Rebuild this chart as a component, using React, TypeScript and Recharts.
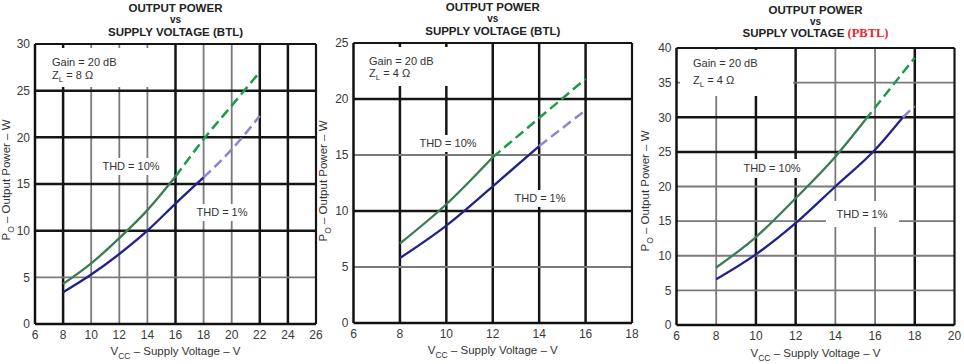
import React from "react";
import { Line, LineChart, ReferenceLine, XAxis, YAxis } from "recharts";

// panel 1: BTL, 8 ohm
const p1XTicks = [6, 8, 10, 12, 14, 16, 18, 20, 22, 24, 26];
const p1YTicks = [0, 5, 10, 15, 20, 25, 30];
const p1Vcc = [8, 10, 12, 14, 16, 18, 20, 22];
const p1Thd10 = [4.3, 6.5, 9.2, 12.2, 15.8, 19.8, 23.4, 27.0];
const p1Thd1 = [3.4, 5.3, 7.5, 10.0, 12.9, 15.7, 18.7, 22.3];

// panel 2: BTL, 4 ohm
const p2XTicks = [6, 8, 10, 12, 14, 16, 18];
const p2YTicks = [0, 5, 10, 15, 20, 25];
const p2Vcc = [8, 10, 12, 14, 16];
const p2Thd10 = [7.1, 10.6, 14.8, 18.3, 21.8];
const p2Thd1 = [5.8, 8.7, 12.2, 15.8, 19.0];

// panel 3: PBTL, 4 ohm
const p3XTicks = [6, 8, 10, 12, 14, 16, 18, 20];
const p3YTicks = [0, 5, 10, 15, 20, 25, 30, 35, 40];
const p3Vcc10 = [8, 10, 12, 14, 15.5, 18];
const p3Thd10 = [8.3, 12.7, 18.3, 24.3, 29.6, 38.6];
const p3Vcc1 = [8, 10, 12, 14, 16, 17.4, 18];
const p3Thd1 = [6.6, 10.2, 14.7, 20.0, 25.3, 30.0, 31.6];

const GREEN = "#3a7c56";
const GREEN_DASH = "#1f9a4c";
const NAVY = "#23228a";
const LAVENDER = "#8c86cc";
const FONT = "'Liberation Sans', Arial, sans-serif";

type Series = { vcc: number[]; po: number[]; dashFrom: number; solid: string; dashed: string };
type Box = { text: React.ReactNode; cx: number; cy: number; w: number; h: number };

type PanelProps = {
  left: number;
  width: number;
  plot: { x0: number; x1: number; y0: number; y1: number };
  xTicks: number[];
  yTicks: number[];
  heavyX: number[];
  heavyY: number[];
  series: Series[];
  titleY: number[];
  variant: React.ReactNode;
  note: { box: { x: number; y: number; w: number; h: number }; textX: number; lineY: number[]; load: string };
  labels: Box[];
  yTitle: { x: number; y: number };
  xTitleY: number;
};

function split(s: Series) {
  const pts = s.vcc.map((v, i) => ({ vcc: v, po: s.po[i] }));
  return {
    solid: pts.filter((p) => p.vcc <= s.dashFrom),
    dashed: pts.filter((p) => p.vcc >= s.dashFrom),
  };
}

function Panel(p: PanelProps) {
  const yAxisW = 30;
  const xAxisH = 36;
  const height = 364;
  const margin = {
    left: p.plot.x0 - p.left - yAxisW,
    right: p.left + p.width - p.plot.x1,
    top: p.plot.y0,
    bottom: height - p.plot.y1 - xAxisH,
  };
  const xMin = p.xTicks[0];
  const xMax = p.xTicks[p.xTicks.length - 1];
  const yMin = p.yTicks[0];
  const yMax = p.yTicks[p.yTicks.length - 1];
  const cx = (p.plot.x0 + p.plot.x1) / 2;
  const abs: React.CSSProperties = { position: "absolute", fontFamily: FONT, whiteSpace: "nowrap" };

  return (
    <>
      <div style={{ position: "absolute", left: p.left, top: 0 }}>
        <LineChart width={p.width} height={height} margin={margin}>
          <XAxis
            type="number"
            dataKey="vcc"
            domain={[xMin, xMax]}
            ticks={p.xTicks}
            interval={0}
            height={xAxisH}
            tickSize={0}
            tickMargin={6}
            tick={{ fontSize: 12, fill: "#3a3a3a", fontFamily: FONT }}
            axisLine={{ stroke: "#111", strokeWidth: 2.5 }}
            allowDataOverflow
          />
          <YAxis
            type="number"
            domain={[yMin, yMax]}
            ticks={p.yTicks}
            interval={0}
            width={yAxisW}
            tickSize={0}
            tickMargin={5}
            tick={{ fontSize: 12, fill: "#3a3a3a", fontFamily: FONT }}
            axisLine={{ stroke: "#111", strokeWidth: 2.5 }}
            allowDataOverflow
          />
          {p.xTicks.slice(1, -1).map((v) => (
            <ReferenceLine
              key={"x" + v}
              x={v}
              stroke={p.heavyX.includes(v) ? "#151515" : "#7a7a7a"}
              strokeWidth={p.heavyX.includes(v) ? 2.5 : 1.8}
              zIndex={-1}
            />
          ))}
          {p.yTicks.slice(1, -1).map((v) => (
            <ReferenceLine
              key={"y" + v}
              y={v}
              stroke={p.heavyY.includes(v) ? "#151515" : "#7a7a7a"}
              strokeWidth={p.heavyY.includes(v) ? 2.5 : 1.8}
              zIndex={-1}
            />
          ))}
          <ReferenceLine x={xMax} stroke="#151515" strokeWidth={2.2} zIndex={-1} />
          <ReferenceLine y={yMax} stroke="#151515" strokeWidth={2.2} zIndex={-1} />
          {p.series.map((s, i) => {
            const { solid, dashed } = split(s);
            return [
              <Line
                key={"s" + i}
                data={solid}
                dataKey="po"
                type="monotone"
                stroke={s.solid}
                strokeWidth={2.3}
                dot={false}
                activeDot={false}
                isAnimationActive={false}
              />,
              <Line
                key={"d" + i}
                data={dashed}
                dataKey="po"
                type="monotone"
                stroke={s.dashed}
                strokeWidth={2.5}
                strokeDasharray="10 5"
                dot={false}
                activeDot={false}
                isAnimationActive={false}
              />,
            ];
          })}
        </LineChart>
      </div>

      {/* title */}
      <div style={{ ...abs, left: cx - 120, width: 240, top: p.titleY[0] - 6, textAlign: "center", fontSize: 11.5, fontWeight: 700, lineHeight: "12px", color: "#222" }}>
        OUTPUT POWER
      </div>
      <div style={{ ...abs, left: cx - 120, width: 240, top: p.titleY[1] - 5, textAlign: "center", fontSize: 10, fontWeight: 700, lineHeight: "10px", color: "#222" }}>
        vs
      </div>
      <div style={{ ...abs, left: cx - 120, width: 240, top: p.titleY[2] - 6, textAlign: "center", fontSize: 11.5, fontWeight: 700, lineHeight: "12px", color: "#222" }}>
        SUPPLY VOLTAGE {p.variant}
      </div>

      {/* conditions box */}
      <div style={{ position: "absolute", left: p.note.box.x, top: p.note.box.y, width: p.note.box.w, height: p.note.box.h, background: "#fff" }} />
      <div style={{ ...abs, left: p.note.textX, top: p.note.lineY[0] - 6, fontSize: 11, lineHeight: "12px", color: "#333" }}>
        Gain = 20 dB
      </div>
      <div style={{ ...abs, left: p.note.textX, top: p.note.lineY[1] - 6, fontSize: 11, lineHeight: "12px", color: "#333" }}>
        Z<sub style={{ fontSize: 8 }}>L</sub> = {p.note.load}
      </div>

      {/* curve labels */}
      {p.labels.map((b, i) => (
        <div
          key={i}
          style={{
            ...abs,
            left: b.cx - b.w / 2,
            top: b.cy - b.h / 2,
            width: b.w,
            height: b.h,
            lineHeight: b.h + "px",
            textAlign: "center",
            background: "#fff",
            fontSize: 11,
            color: "#333",
          }}
        >
          {b.text}
        </div>
      ))}

      {/* axis titles */}
      <div style={{ ...abs, left: p.yTitle.x, top: p.yTitle.y, transform: "translate(-50%, -50%) rotate(-90deg)", fontSize: 11.5, color: "#333" }}>
        P<sub style={{ fontSize: 8.5 }}>O</sub> – Output Power – W
      </div>
      <div style={{ ...abs, left: cx, top: p.xTitleY, transform: "translate(-50%, -50%)", fontSize: 11.5, color: "#333" }}>
        V<sub style={{ fontSize: 8.5 }}>CC</sub> – Supply Voltage – V
      </div>
    </>
  );
}

export default function App() {
  return (
    <div style={{ position: "absolute", left: 0, top: 0, width: 964, height: 364, background: "#fff", overflow: "hidden" }}>
      <Panel
        left={0}
        width={330}
        plot={{ x0: 35, x1: 316, y0: 44, y1: 324 }}
        xTicks={p1XTicks}
        yTicks={p1YTicks}
        heavyX={[8, 16, 22, 24]}
        heavyY={[10, 15, 20, 25]}
        series={[
          { vcc: p1Vcc, po: p1Thd10, dashFrom: 16, solid: GREEN, dashed: GREEN_DASH },
          { vcc: p1Vcc, po: p1Thd1, dashFrom: 18, solid: NAVY, dashed: LAVENDER },
        ]}
        titleY={[8, 20, 32]}
        variant="(BTL)"
        note={{ box: { x: 38, y: 48, w: 112, h: 39 }, textX: 52, lineY: [62, 75], load: "8 Ω" }}
        labels={[
          { text: "THD = 10%", cx: 131, cy: 166, w: 62, h: 17 },
          { text: "THD = 1%", cx: 222, cy: 212, w: 62, h: 17 },
        ]}
        yTitle={{ x: 8, y: 180 }}
        xTitleY={353}
      />
      <Panel
        left={320}
        width={322}
        plot={{ x0: 353.5, x1: 632, y0: 43, y1: 323 }}
        xTicks={p2XTicks}
        yTicks={p2YTicks}
        heavyX={[8, 10, 12, 14, 16]}
        heavyY={[10, 20]}
        series={[
          { vcc: p2Vcc, po: p2Thd10, dashFrom: 12, solid: GREEN, dashed: GREEN_DASH },
          { vcc: p2Vcc, po: p2Thd1, dashFrom: 14, solid: NAVY, dashed: LAVENDER },
        ]}
        titleY={[7, 19, 31]}
        variant="(BTL)"
        note={{ box: { x: 357, y: 47, w: 96, h: 39 }, textX: 369, lineY: [61, 73], load: "4 Ω" }}
        labels={[
          { text: "THD = 10%", cx: 448, cy: 143, w: 64, h: 17 },
          { text: "THD = 1%", cx: 540, cy: 198, w: 62, h: 17 },
        ]}
        yTitle={{ x: 325, y: 181 }}
        xTitleY={352}
      />
      <Panel
        left={642}
        width={322}
        plot={{ x0: 676.5, x1: 954.5, y0: 48, y1: 325 }}
        xTicks={p3XTicks}
        yTicks={p3YTicks}
        heavyX={[10, 12, 18]}
        heavyY={[25, 30]}
        series={[
          { vcc: p3Vcc10, po: p3Thd10, dashFrom: 15.5, solid: GREEN, dashed: GREEN_DASH },
          { vcc: p3Vcc1, po: p3Thd1, dashFrom: 17.4, solid: NAVY, dashed: LAVENDER },
        ]}
        titleY={[10, 22, 33]}
        variant={
          <span style={{ color: "#e8262e", fontFamily: "'Liberation Serif', serif", fontSize: 12.5 }}>(PBTL)</span>
        }
        note={{ box: { x: 680, y: 50, w: 113, h: 46 }, textX: 693, lineY: [63, 80], load: "4 Ω" }}
        labels={[
          { text: "THD = 10%", cx: 772, cy: 168, w: 74, h: 19 },
          { text: "THD = 1%", cx: 862, cy: 214, w: 73, h: 26 },
        ]}
        yTitle={{ x: 647, y: 191 }}
        xTitleY={355}
      />
    </div>
  );
}
